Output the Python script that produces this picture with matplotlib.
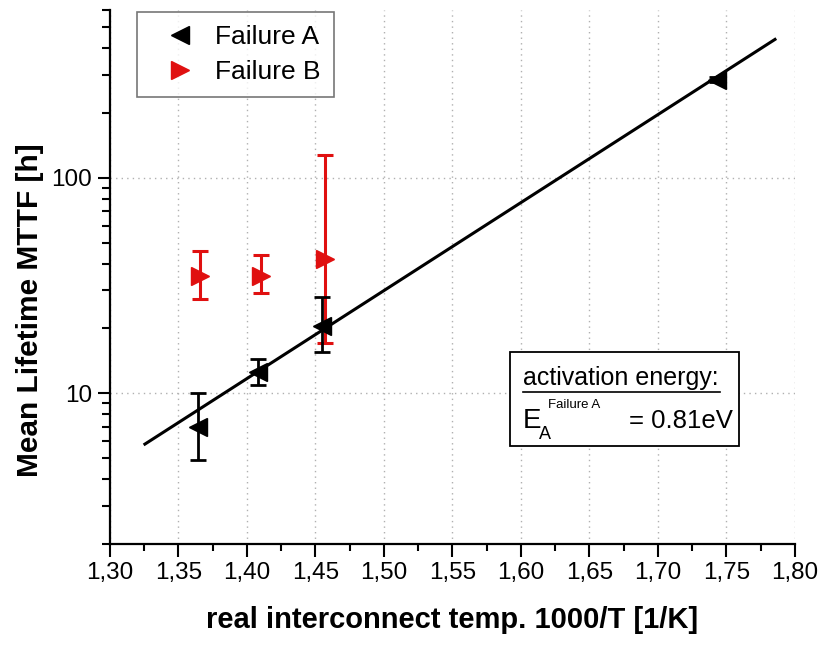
import numpy as np
import matplotlib.pyplot as plt
from matplotlib.patches import Rectangle
from matplotlib.lines import Line2D
from matplotlib.ticker import FixedLocator, FuncFormatter, LogLocator, NullFormatter

plt.rcParams['font.family'] = ['Liberation Sans', 'DejaVu Sans']

# Failure A: inverse temperature, mean lifetime and asymmetric error limits
xa = [1.364, 1.408, 1.455, 1.743]
ya = [7.0, 12.5, 20.5, 285.0]
ya_lo = [4.9, 10.9, 15.5, 278.0]
ya_hi = [10.0, 14.4, 28.0, 292.0]

# Failure B
xb = [1.366, 1.410, 1.457]
yb = [35.0, 35.0, 42.0]
yb_lo = [27.4, 29.2, 17.1]
yb_hi = [45.8, 43.9, 128.0]

# Arrhenius fit for failure A
ea_ev = 0.81
k_b = 8.617e-5
fit_x = [1.3255, 1.7854]
fit_mid = (1.5555, 50.5)

x_ticks = [1.30, 1.35, 1.40, 1.45, 1.50, 1.55, 1.60, 1.65, 1.70, 1.75, 1.80]

fig = plt.figure(figsize=(8.25, 6.51), dpi=100)
ax = fig.add_axes([0.1333, 0.1644, 0.8303, 0.8202])

# fit line: slope in decades per unit of 1000/T
slope = ea_ev / (np.log(10) * k_b * 1000)
fx = np.array(fit_x)
fy = fit_mid[1] * 10 ** (slope * (fx - fit_mid[0]))
ax.plot(fx, fy, color='black', lw=2.2, zorder=3)

red = '#e01010'
ya_arr = np.array(ya)
yerr_a = [ya_arr - np.array(ya_lo), np.array(ya_hi) - ya_arr]
yb_arr = np.array(yb)
yerr_b = [yb_arr - np.array(yb_lo), np.array(yb_hi) - yb_arr]

ax.errorbar(xb, yb, yerr=yerr_b, fmt='>', color=red, ms=13,
            elinewidth=2.2, capsize=6, capthick=2.2, zorder=4)
ax.errorbar(xa, ya, yerr=yerr_a, fmt='<', color='black', ms=13,
            elinewidth=2.0, capsize=6, capthick=2.0, zorder=5)

ax.set_yscale('log')
ax.set_xlim(1.30, 1.80)
ax.set_ylim(2.0, 600)

ax.xaxis.set_major_locator(FixedLocator(x_ticks))
ax.xaxis.set_minor_locator(FixedLocator([1.325 + 0.05 * i for i in range(10)]))
ax.xaxis.set_major_formatter(FuncFormatter(lambda v, p: f'{v:.2f}'.replace('.', ',')))
ax.yaxis.set_major_locator(FixedLocator([10, 100]))
ax.yaxis.set_major_formatter(FuncFormatter(lambda v, p: f'{v:g}'))
ax.yaxis.set_minor_locator(LogLocator(base=10, subs=np.arange(2, 10)))
ax.yaxis.set_minor_formatter(NullFormatter())

ax.tick_params(axis='both', which='major', direction='out', length=9, width=1.5,
               labelsize=17.5, pad=4)
ax.tick_params(axis='x', which='minor', direction='out', length=5, width=1.5)
ax.tick_params(axis='y', which='minor', direction='out', length=6, width=1.5)

for side in ('top', 'right'):
    ax.spines[side].set_visible(False)
for side in ('left', 'bottom'):
    ax.spines[side].set_linewidth(1.6)

ax.grid(True, which='major', linestyle=(0, (1, 3)), color='#b0b0b0', lw=1.0)

ax.set_xlabel('real interconnect temp. 1000/T [1/K]', fontsize=21, fontweight='bold')
ax.set_ylabel('Mean Lifetime MTTF [h]', fontsize=21.5, fontweight='bold')
ax.xaxis.set_label_coords(0.5, -0.117)
ax.yaxis.set_label_coords(-0.097, 0.438)

handles = [Line2D([], [], ls='none', marker='<', color='black', ms=13),
           Line2D([], [], ls='none', marker='>', color=red, ms=13)]
leg = ax.legend(handles, ['Failure A', 'Failure B'], loc='upper left',
                bbox_to_anchor=(0.04, 0.996), fontsize=19, frameon=True,
                fancybox=False, edgecolor='#555555', handlelength=2.2,
                handletextpad=0.26, borderpad=0.5, labelspacing=0.41,
                borderaxespad=0)
leg.get_frame().set_linewidth(1.2)

# activation energy box
tr = ax.transAxes
ax.add_patch(Rectangle((0.584, 0.1835), 0.334, 0.176, transform=tr, fill=True,
                       facecolor='white', edgecolor='black', lw=1.3, zorder=6))
ax.text(0.603, 0.297, 'activation energy:', transform=tr, fontsize=18,
        ha='left', va='baseline', zorder=7)
ax.add_line(Line2D([0.603, 0.891], [0.285, 0.285], transform=tr, color='black',
                   lw=1.2, zorder=7))
ax.text(0.603, 0.217, 'E', transform=tr, fontsize=20, ha='left', va='baseline', zorder=7)
ax.text(0.627, 0.197, 'A', transform=tr, fontsize=13, ha='left', va='baseline', zorder=7)
ax.text(0.640, 0.255, 'Failure A', transform=tr, fontsize=9.5, ha='left', va='baseline',
        zorder=7)
ax.text(0.757, 0.217, '= 0.81eV', transform=tr, fontsize=18.5, ha='left', va='baseline',
        zorder=7)

fig.savefig('out.png', dpi=100)
